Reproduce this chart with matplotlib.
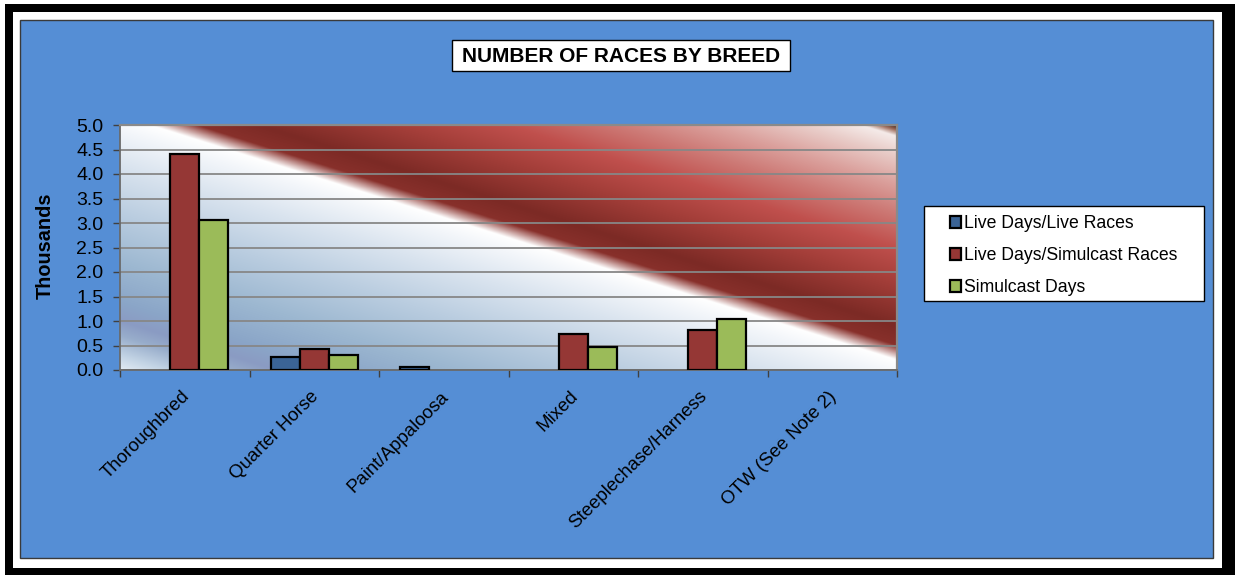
import numpy as np
import matplotlib
matplotlib.use("Agg")
import matplotlib.pyplot as plt
from matplotlib.patches import Rectangle
from matplotlib.transforms import ScaledTranslation
from matplotlib.colors import to_rgb

plt.rcParams['font.family'] = ['Liberation Sans', 'DejaVu Sans']

categories = ["Thoroughbred", "Quarter Horse", "Paint/Appaloosa", "Mixed",
              "Steeplechase/Harness", "OTW (See Note 2)"]
series_names = ["Live Days/Live Races", "Live Days/Simulcast Races", "Simulcast Days"]
live_live = [0.0, 0.27, 0.055, 0.0, 0.0, 0.0]
live_simulcast = [4.40, 0.42, 0.0, 0.73, 0.82, 0.0]
simulcast_days = [3.07, 0.31, 0.0, 0.46, 1.05, 0.0]
yticks = [0.0, 0.5, 1.0, 1.5, 2.0, 2.5, 3.0, 3.5, 4.0, 4.5, 5.0]
colors = ["#3B6496", "#953735", "#9BBB59"]

W, H = 1235, 575
fig = plt.figure(figsize=(W / 100, H / 100), dpi=100)
fig.patch.set_facecolor("white")

def fx(x):
    return x / W

def fy(y):
    return 1 - y / H

def frect(x0, y0, x1, y1, **kw):
    r = Rectangle((fx(x0), fy(y1)), fx(x1) - fx(x0), fy(y0) - fy(y1),
                  transform=fig.transFigure, **kw)
    fig.patches.append(r)
    return r

# outer black frame
frect(5, 4, 1222, 12, facecolor="black", edgecolor="none", zorder=-2)
frect(5, 4, 13, 575, facecolor="black", edgecolor="none", zorder=-2)
frect(1222, 4, 1235, 575, facecolor="black", edgecolor="none", zorder=-2)
frect(5, 568, 1235, 575, facecolor="black", edgecolor="none", zorder=-2)
# blue chart area
frect(20, 20, 1213, 558, facecolor="#558ED5", edgecolor="#3a3a3a", linewidth=1.0, zorder=-1)

# axes
ax = fig.add_axes([fx(120), fy(370), fx(897) - fx(120), fy(125) - fy(370)])
ax.set_zorder(0)
ax.set_xlim(-0.5, len(categories) - 0.5)
ax.set_ylim(0, 5)

# background gradient
stops = [
    (0.00, "#e2ebf3"), (0.03, "#c2d3e4"), (0.07, "#98adcb"), (0.10, "#8a9bc3"),
    (0.14, "#8ba6c8"), (0.22, "#9db8d1"), (0.32, "#bacde0"), (0.42, "#dae4ef"),
    (0.49, "#f3f6fa"), (0.52, "#ffffff"), (0.55, "#88302b"), (0.59, "#7c2a25"),
    (0.68, "#a53f3a"), (0.75, "#c0504d"), (0.82, "#cd7a76"), (0.88, "#dba19d"),
    (0.94, "#e9cdc9"), (0.978, "#f5ebe9"), (0.99, "#a07060"), (1.0, "#4a2418"),
]
st = np.array([s[0] for s in stops])
sc = np.array([to_rgb(s[1]) for s in stops])
nh, nw = 300, 900
u = np.linspace(0, 1, nw)[None, :]
v = np.linspace(1, 0, nh)[:, None]
t = (u + v) / 2.0
img = np.zeros((nh, nw, 3))
for k in range(3):
    img[..., k] = np.interp(t, st, sc[:, k])
ax.imshow(img, extent=[-0.5, len(categories) - 0.5, 0, 5], aspect="auto",
          interpolation="bilinear", zorder=0)

# gridlines
ax.set_yticks(yticks)
ax.set_yticklabels([f"{v:.1f}" for v in yticks], fontsize=14)
ax.yaxis.grid(True, color="#878787", linewidth=1.3)
ax.set_axisbelow(True)

# bars (zero values are not drawn)
x = np.arange(len(categories))
bw = 0.224
for j, (vals, c, name) in enumerate(zip([live_live, live_simulcast, simulcast_days], colors, series_names)):
    vals = np.asarray(vals, dtype=float)
    m = vals > 0
    ax.bar(x[m] + (j - 1) * bw, vals[m], width=bw, color=c, edgecolor="black",
           linewidth=1.6, zorder=3, label=name)

# spines
for s in ["top", "right"]:
    ax.spines[s].set_color("#8a8a8a")
    ax.spines[s].set_linewidth(1.6)
ax.spines["left"].set_color("#6a6a6a")
ax.spines["left"].set_linewidth(1.3)
ax.spines["bottom"].set_color("#6a6a6a")
ax.spines["bottom"].set_linewidth(1.3)

ax.tick_params(axis="y", direction="out", length=5, width=1, color="#404040", pad=7)
ax.set_xticks(x)
ax.set_xticklabels([])
ax.tick_params(axis="x", which="major", length=0)
ax.set_xticks(np.arange(-0.5, len(categories), 1.0), minor=True)
ax.tick_params(axis="x", which="minor", direction="out", length=5, width=1, color="#404040")

off = ScaledTranslation(-4 / 100, -18 / 100, fig.dpi_scale_trans)
for i, cat in enumerate(categories):
    ax.text(i, 0, cat, transform=ax.get_xaxis_transform() + off, rotation=45,
            ha="right", va="top", rotation_mode="anchor", fontsize=13.4)

# y label
fig.text(fx(45), fy(246), "Thousands", rotation=90, ha="center", va="center",
         fontsize=14.3, fontweight="bold")

# title
frect(452, 40, 790, 71, facecolor="white", edgecolor="black", linewidth=1.0, zorder=1)
fig.text(fx(621), fy(56), "NUMBER OF RACES BY BREED", ha="center", va="center",
         fontsize=15, fontweight="bold", zorder=3)

# legend
frect(924, 206, 1204, 301, facecolor="white", edgecolor="black", linewidth=1.0, zorder=1)
handles, labels = ax.get_legend_handles_labels()
leg = fig.legend(handles, labels, loc="center left",
                 bbox_to_anchor=(fx(950), fy(255.5)), frameon=False,
                 fontsize=12.7, handlelength=0.65, handleheight=0.65,
                 handletextpad=0.12, labelspacing=0.85, borderpad=0, borderaxespad=0)
leg.set_zorder(5)

fig.savefig("out.png", dpi=100)
